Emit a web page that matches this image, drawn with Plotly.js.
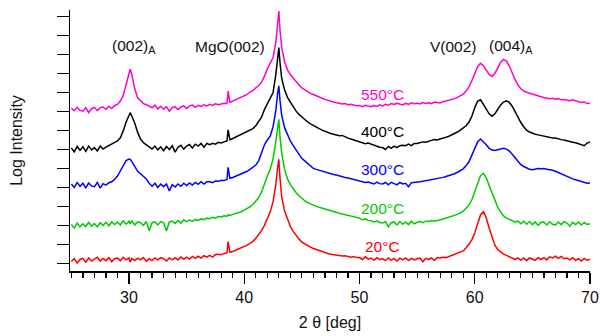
<!DOCTYPE html>
<html>
<head>
<meta charset="utf-8">
<script src="https://cdn.plot.ly/plotly-3.0.1.min.js"></script>
<style>
  html, body { margin: 0; padding: 0; background: #fff; }
  #chart { width: 600px; height: 336px; }
</style>
</head>
<body>
<div id="chart"></div>
<script>
// Diffraction angle 2θ (deg), shared by all scans
const twoTheta = [
  25, 25.25, 25.5, 25.75,
  26, 26.25, 26.5, 26.75,
  27, 27.25, 27.5, 27.75,
  28, 28.25, 28.5, 28.75,
  29, 29.25, 29.5, 29.75,
  30, 30.1, 30.25, 30.5, 30.75,
  31, 31.25, 31.5, 31.75,
  32, 32.25, 32.5, 32.75,
  33, 33.25, 33.5, 33.75,
  34, 34.25, 34.5, 34.75,
  35, 35.25, 35.5, 35.75,
  36, 36.25, 36.5, 36.75,
  37, 37.25, 37.5, 37.75,
  38, 38.25, 38.5, 38.6, 38.75,
  39, 39.25, 39.5, 39.75,
  40, 40.25, 40.5, 40.75,
  41, 41.25, 41.5, 41.75,
  42, 42.25, 42.5, 42.75, 42.9,
  43, 43.1, 43.25, 43.5, 43.75,
  44, 44.25, 44.5, 44.75,
  45, 45.25, 45.5, 45.75,
  46, 46.25, 46.5, 46.75,
  47, 47.25, 47.5, 47.75,
  48, 48.25, 48.5, 48.75,
  49, 49.25, 49.5, 49.75,
  50, 50.25, 50.5, 50.75,
  51, 51.25, 51.5, 51.75,
  52, 52.25, 52.5, 52.75,
  53, 53.25, 53.5, 53.75,
  54, 54.25, 54.5, 54.75,
  55, 55.25, 55.5, 55.75,
  56, 56.25, 56.5, 56.75,
  57, 57.25, 57.5, 57.75,
  58, 58.25, 58.5, 58.75,
  59, 59.25, 59.5, 59.75,
  60, 60.25, 60.5, 60.75,
  61, 61.25, 61.5, 61.75,
  62, 62.25, 62.5, 62.75,
  63, 63.25, 63.5, 63.75,
  64, 64.25, 64.5, 64.75,
  65, 65.25, 65.5, 65.75,
  66, 66.25, 66.5, 66.75,
  67, 67.25, 67.5, 67.75,
  68, 68.25, 68.5, 68.75,
  69, 69.25, 69.5, 69.75,
  70
];

// Log intensity (stacked, arbitrary units) for each anneal temperature
const int20C = [
  0.10, 0.24, 0.02, 0.20,
  0.26, 0.06, 0.28, 0.12,
  0.22, 0.32, 0.12, 0.26,
  0.14, 0.30, 0.08, 0.24,
  0.28, 0.14, 0.32, 0.18,
  0.28, 0.06, 0.26, 0.14, 0.27,
  0.18, 0.30, 0.10, 0.24,
  0.14, 0.28, 0.18, 0.30,
  0.24, 0.12, 0.28, 0.18,
  0.30, 0.18, 0.33, 0.22,
  0.32, 0.22, 0.36, 0.26,
  0.37, 0.27, 0.40, 0.32,
  0.42, 0.33, 0.46, 0.48,
  0.45, 0.52, 0.55, 1.14, 0.58,
  0.62, 0.68, 0.76, 0.82,
  0.88, 0.96, 1.05, 1.15,
  1.32, 1.50, 1.72, 2.00,
  2.32, 2.70, 3.25, 4.20, 5.10,
  5.48, 4.50, 3.50, 2.75, 2.30,
  1.95, 1.68, 1.45, 1.28,
  1.12, 1.02, 0.94, 0.85,
  0.78, 0.72, 0.66, 0.62,
  0.56, 0.52, 0.48, 0.45,
  0.44, 0.40, 0.38, 0.40,
  0.35, 0.32, 0.36, 0.30,
  0.30, 0.20, 0.34, 0.22,
  0.28, 0.16, 0.30, 0.20,
  0.24, 0.14, 0.28, 0.16,
  0.26, 0.12, 0.27, 0.18,
  0.28, 0.14, 0.26, 0.18,
  0.24, 0.28, 0.08, 0.26,
  0.20, 0.28, 0.16, 0.30,
  0.28, 0.32, 0.30, 0.36,
  0.40, 0.46, 0.52, 0.58,
  0.65, 0.82, 1.00, 1.25,
  1.60, 2.08, 2.55, 2.72,
  2.40, 1.85, 1.35, 0.95,
  0.72, 0.58, 0.48, 0.42,
  0.35, 0.28, 0.20, 0.28,
  0.16, 0.28, 0.14, 0.28,
  0.20, 0.16, 0.30, 0.20,
  0.30, 0.18, 0.34, 0.28,
  0.38, 0.26, 0.36, 0.24,
  0.28, 0.18, 0.30, 0.16,
  0.24, 0.12, 0.26, 0.16,
  0.22
];

const int200C = [
  2.04, 1.86, 2.12, 1.92,
  2.08, 1.94, 2.16, 1.96,
  2.10, 1.92, 2.14, 2.00,
  2.16, 1.98, 2.18, 2.04,
  2.18, 2.02, 2.24, 2.06,
  2.22, 2.08, 2.24, 2.02, 2.18,
  2.14, 2.00, 2.20, 1.72,
  2.14, 2.18, 2.02, 2.20,
  2.14, 1.70, 2.18, 2.22,
  2.10, 2.26, 2.12, 2.28,
  2.20, 2.28, 2.22, 2.30,
  2.26, 2.34, 2.30, 2.38,
  2.35, 2.42, 2.38, 2.46,
  2.44, 2.50, 2.48, 2.55, 2.52,
  2.58, 2.62, 2.66, 2.72,
  2.80, 2.88, 2.98, 3.10,
  3.25, 3.45, 3.75, 4.20,
  4.60, 4.95, 5.50, 6.45, 7.30,
  7.59, 6.70, 5.80, 4.95, 4.45,
  4.15, 3.92, 3.72, 3.56,
  3.42, 3.30, 3.20, 3.12,
  3.06, 3.00, 2.95, 2.90,
  2.85, 2.80, 2.76, 2.72,
  2.68, 2.64, 2.60, 2.57,
  2.55, 2.50, 2.46, 2.42,
  2.38, 2.30, 2.34, 2.26,
  2.25, 2.18, 2.24, 2.15,
  2.12, 2.20, 1.92, 2.14,
  2.18, 2.02, 2.20, 2.06,
  2.18, 2.04, 2.22, 2.08,
  2.16, 2.20, 2.14, 2.22,
  2.20, 2.25, 2.22, 2.28,
  2.30, 2.34, 2.38, 2.42,
  2.46, 2.52, 2.58, 2.66,
  2.75, 2.90, 3.08, 3.35,
  3.75, 4.25, 4.62, 4.74,
  4.50, 4.10, 3.70, 3.28,
  2.95, 2.70, 2.50, 2.38,
  2.30, 2.25, 2.18, 2.22,
  2.08, 2.22, 2.06, 2.20,
  2.04, 2.18, 2.00, 2.16,
  2.18, 2.02, 2.19, 2.06,
  2.02, 2.18, 2.04, 2.19,
  2.12, 1.96, 2.16, 2.04,
  2.18, 2.02, 2.15, 2.05,
  2.08
];

const int300C = [
  4.18, 4.00, 4.26, 4.06,
  4.22, 3.98, 4.24, 4.08,
  4.04, 4.26, 3.96, 4.20,
  4.12, 4.25, 4.30, 4.42,
  4.60, 4.88, 5.22, 5.42,
  5.50, 5.48, 5.36, 5.10, 4.85,
  4.72, 4.58, 4.45, 4.22,
  4.06, 4.22, 4.00, 4.18,
  4.04, 4.18, 3.82, 4.14,
  4.02, 4.18, 4.06, 4.22,
  4.10, 4.24, 4.12, 4.26,
  4.16, 4.30, 4.18, 4.30,
  4.30, 4.25, 4.34, 4.32,
  4.38, 4.36, 4.42, 5.06, 4.48,
  4.52, 4.58, 4.65, 4.70,
  4.76, 4.85, 4.95, 5.05,
  5.18, 5.40, 5.85, 6.25,
  6.50, 6.70, 7.20, 8.10, 9.00,
  9.35, 8.60, 7.80, 7.15, 6.75,
  6.45, 6.20, 5.95, 5.70,
  5.52, 5.40, 5.25, 5.10,
  5.00, 4.95, 4.90, 4.84,
  4.80, 4.76, 4.72, 4.68,
  4.65, 4.60, 4.56, 4.52,
  4.50, 4.45, 4.42, 4.38,
  4.34, 4.30, 4.26, 4.28,
  4.24, 4.18, 4.28, 4.20,
  4.18, 4.26, 4.14, 4.27,
  4.20, 4.14, 4.26, 4.18,
  4.22, 4.04, 4.25, 4.26,
  4.28, 4.30, 4.33, 4.36,
  4.35, 4.40, 4.42, 4.46,
  4.50, 4.53, 4.58, 4.62,
  4.65, 4.72, 4.80, 4.88,
  4.98, 5.15, 5.35, 5.70,
  6.05, 6.40, 6.55, 6.42,
  6.25, 6.06, 5.97, 5.95,
  6.00, 6.05, 6.06, 6.02,
  5.92, 5.75, 5.55, 5.36,
  5.20, 5.10, 5.02, 4.96,
  4.93, 4.95, 5.00, 4.98,
  5.00, 4.96, 4.94, 4.90,
  4.85, 4.78, 4.70, 4.62,
  4.56, 4.50, 4.45, 4.40,
  4.36, 4.30, 4.26, 4.22,
  4.24
];

const int400C = [
  6.08, 5.88, 6.16, 5.96,
  6.14, 5.90, 6.18, 5.98,
  6.10, 5.92, 6.18, 6.02,
  6.12, 6.20, 6.30, 6.38,
  6.45, 6.62, 6.98, 7.45,
  7.85, 7.94, 7.75, 7.38, 6.90,
  6.55, 6.36, 6.25, 6.14,
  6.02, 6.18, 5.98, 6.14,
  5.94, 6.16, 6.00, 6.20,
  5.86, 6.12, 6.22, 6.02,
  6.18, 6.26, 6.08, 6.28,
  6.18, 6.32, 6.12, 6.32,
  6.25, 6.33, 6.28, 6.38,
  6.34, 6.40, 6.45, 7.03, 6.52,
  6.58, 6.65, 6.74, 6.80,
  6.86, 6.92, 7.00, 7.10,
  7.25, 7.45, 7.70, 8.10,
  8.40, 8.62, 9.00, 10.00, 10.95,
  11.37, 10.60, 9.75, 9.15, 8.75,
  8.50, 8.25, 8.02, 7.85,
  7.70, 7.56, 7.45, 7.35,
  7.26, 7.15, 7.10, 7.02,
  6.95, 6.90, 6.84, 6.80,
  6.78, 6.72, 6.74, 6.66,
  6.60, 6.55, 6.50, 6.46,
  6.40, 6.35, 6.30, 6.34,
  6.28, 6.22, 6.18, 6.12,
  6.10, 6.00, 6.16, 6.06,
  6.18, 6.10, 6.20, 6.22,
  6.20, 6.28, 6.20, 6.32,
  6.32, 6.36, 6.40, 6.38,
  6.45, 6.48, 6.52, 6.50,
  6.55, 6.58, 6.64, 6.70,
  6.76, 6.84, 6.92, 7.02,
  7.12, 7.25, 7.45, 7.75,
  8.20, 8.55, 8.62, 8.35,
  8.10, 7.88, 7.75, 7.88,
  8.12, 8.35, 8.50, 8.56,
  8.48, 8.28, 8.00, 7.70,
  7.42, 7.20, 7.02, 6.92,
  6.85, 6.80, 6.77, 6.73,
  6.70, 6.66, 6.64, 6.60,
  6.60, 6.55, 6.52, 6.50,
  6.45, 6.42, 6.38, 6.35,
  6.30, 6.24, 6.20, 6.34,
  6.40
];

const int550C = [
  8.18, 8.04, 8.22, 8.06,
  8.02, 8.20, 7.94, 8.15,
  8.22, 8.05, 8.20, 8.24,
  8.12, 8.28, 8.16, 8.32,
  8.38, 8.55, 8.85, 9.45,
  10.05, 10.23, 9.95, 9.20, 8.72,
  8.55, 8.42, 8.36, 8.28,
  8.20, 8.34, 8.14, 8.28,
  8.12, 8.26, 8.02, 8.20,
  8.26, 8.10, 8.24, 8.30,
  8.16, 8.30, 8.34, 8.22,
  8.33, 8.27, 8.36, 8.30,
  8.38, 8.32, 8.41, 8.36,
  8.40, 8.44, 8.42, 9.08, 8.48,
  8.55, 8.62, 8.70, 8.76,
  8.82, 8.90, 9.02, 9.10,
  9.25, 9.36, 9.55, 9.85,
  10.25, 10.55, 10.85, 11.70, 12.60,
  13.30, 12.30, 11.40, 10.62, 10.20,
  9.95, 9.75, 9.55, 9.40,
  9.25, 9.14, 9.04, 8.96,
  8.90, 8.82, 8.76, 8.70,
  8.64, 8.58, 8.52, 8.50,
  8.46, 8.43, 8.40, 8.42,
  8.36, 8.38, 8.33, 8.30,
  8.32, 8.26, 8.33, 8.28,
  8.25, 8.32, 8.27, 8.35,
  8.30, 8.38, 8.33, 8.42,
  8.37, 8.44, 8.40, 8.35,
  8.43, 8.38, 8.46, 8.41,
  8.44, 8.40, 8.47, 8.43,
  8.46, 8.42, 8.50, 8.47,
  8.45, 8.52, 8.55, 8.58,
  8.62, 8.68, 8.75, 8.82,
  8.92, 9.08, 9.30, 9.62,
  10.00, 10.38, 10.54, 10.42,
  10.18, 9.95, 9.85, 10.02,
  10.30, 10.60, 10.75, 10.66,
  10.40, 10.02, 9.68, 9.40,
  9.20, 9.08, 9.00, 8.96,
  8.92, 8.86, 8.82, 8.78,
  8.74, 8.72, 8.68, 8.70,
  8.65, 8.68, 8.62, 8.64,
  8.60, 8.57, 8.62, 8.55,
  8.52, 8.48, 8.50, 8.42,
  8.44
];

const tempLabels = ["20°C", "200°C", "300°C", "400°C", "550°C"];
const peakLabels = ["(002)<sub>A</sub>", "MgO(002)", "V(002)", "(004)<sub>A</sub>"];

const series = [int20C, int200C, int300C, int400C, int550C];
const lineColors = ["#ff0000", "#00cc00", "#0000ff", "#000000", "#ff00cc"];

const FONT = "Liberation Sans, Arial, Helvetica, sans-serif";

const traces = series.map((ys, i) => ({
  type: "scatter",
  mode: "lines",
  x: twoTheta,
  y: ys,
  name: tempLabels[i],
  line: { color: lineColors[i], width: 1.5 },
  hoverinfo: "skip"
}));

// Temperature labels sit in the flat stretch around 52°, just above each scan
const tempLabelY = [0.89, 2.89, 4.92, 6.97, 8.92];
const tempAnnotations = tempLabels.map((t, i) => ({
  x: 52.0, y: tempLabelY[i], xref: "x", yref: "y",
  text: t, showarrow: false,
  xanchor: "center", yanchor: "middle",
  font: { family: FONT, size: 15.5, color: lineColors[i] }
}));

// Reflection names above the peaks
const peakLabelX = [30.44, 38.77, 58.19, 63.16];
const peakAnnotations = peakLabels.map((t, i) => ({
  x: peakLabelX[i], y: 11.45, xref: "x", yref: "y",
  text: t, showarrow: false,
  xanchor: "center", yanchor: "middle",
  font: { family: FONT, size: 15.5, color: "#111111" }
}));

const layout = {
  width: 600,
  height: 336,
  margin: { l: 70, r: 10, t: 10, b: 65 },
  paper_bgcolor: "#ffffff",
  plot_bgcolor: "#ffffff",
  showlegend: false,
  hovermode: false,
  font: { family: FONT, size: 16, color: "#111111" },
  xaxis: {
    range: [24.88, 70],
    tickmode: "linear",
    tick0: 30,
    dtick: 10,
    ticks: "outside",
    ticklen: 11,
    tickwidth: 1.3,
    tickcolor: "#000",
    showline: true,
    linecolor: "#000",
    linewidth: 1.5,
    showgrid: false,
    zeroline: false,
    tickfont: { family: FONT, size: 16, color: "#111111" },
    minor: { dtick: 1, tick0: 25, ticks: "outside", ticklen: 5, tickwidth: 1.2, tickcolor: "#000", showgrid: false },
    title: { text: "2 θ [deg]", font: { family: FONT, size: 16, color: "#111111" }, standoff: 12 }
  },
  yaxis: {
    range: [-0.406, 13.353],
    tickmode: "linear",
    tick0: 0,
    dtick: 1,
    ticks: "outside",
    ticklen: 12,
    tickwidth: 1.3,
    tickcolor: "#000",
    showticklabels: false,
    showline: true,
    linecolor: "#000",
    linewidth: 1.5,
    showgrid: false,
    zeroline: false,
    title: { text: "Log Intensity", font: { family: FONT, size: 16, color: "#111111" }, standoff: 30 }
  },
  annotations: peakAnnotations.concat(tempAnnotations)
};

Plotly.newPlot("chart", traces, layout, { staticPlot: true, displayModeBar: false });
</script>
</body>
</html>
